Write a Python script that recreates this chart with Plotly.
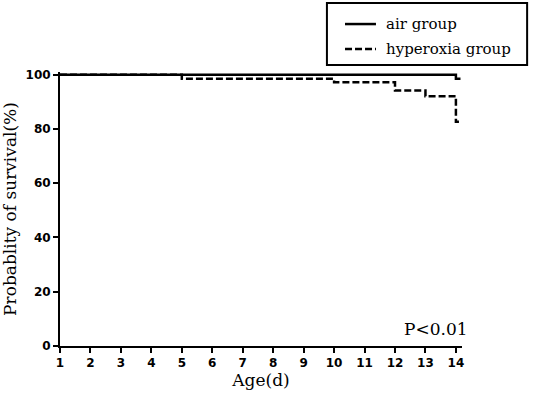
import plotly.graph_objects as go

air_x = [1, 14, 14.15]
air_y = [100, 98.5, 98.5]
hyp_x = [1, 5, 10, 12, 13, 14, 14.1]
hyp_y = [100, 98.5, 97.2, 94.2, 92.1, 82.7, 82.7]
x_ticks = list(range(1, 15))
y_ticks = [0, 20, 40, 60, 80, 100]
names = ["air group", "hyperoxia group"]

serif = "DejaVu Serif, serif"
dash = "7px,3px"

fig = go.Figure()
fig.add_trace(go.Scatter(x=air_x, y=air_y, mode="lines", line_shape="hv",
                         name=names[0], line=dict(color="black", width=2.5)))
fig.add_trace(go.Scatter(x=hyp_x, y=hyp_y, mode="lines", line_shape="hv",
                         name=names[1],
                         line=dict(color="black", width=2.5, dash=dash)))

# manual legend (paper coordinates)
shapes = [
    dict(type="rect", xref="paper", yref="paper", x0=0.664, x1=1.162, y0=1.0255, y1=1.252,
         line=dict(color="black", width=2), fillcolor="white"),
    dict(type="line", xref="paper", yref="paper", x0=0.709, x1=0.786, y0=1.175, y1=1.175,
         line=dict(color="black", width=2.5)),
    dict(type="line", xref="paper", yref="paper", x0=0.709, x1=0.786, y0=1.084, y1=1.084,
         line=dict(color="black", width=2.5, dash=dash)),
]
annotations = [
    dict(text=names[0], x=0.805, y=1.175, xref="paper", yref="paper", xanchor="left",
         yanchor="middle", showarrow=False, font=dict(family=serif, size=15, color="black")),
    dict(text=names[1], x=0.805, y=1.084, xref="paper", yref="paper", xanchor="left",
         yanchor="middle", showarrow=False, font=dict(family=serif, size=15, color="black")),
    dict(text="P<0.01", x=1.02, y=0.02, xref="paper", yref="paper",
         xanchor="right", yanchor="bottom", showarrow=False,
         font=dict(family=serif, size=17, color="black")),
]

fig.update_layout(
    width=536, height=399,
    margin=dict(l=60, r=74, t=72, b=53),
    paper_bgcolor="white", plot_bgcolor="white",
    showlegend=False,
    shapes=shapes,
    annotations=annotations,
    xaxis=dict(range=[1, 14.2], tickvals=x_ticks, ticktext=[str(v) for v in x_ticks],
               automargin=False,
               showgrid=False, zeroline=False, showline=True, linecolor="black",
               linewidth=2, ticks="outside", ticklen=5, tickwidth=2, tickcolor="black",
               tickfont=dict(family="DejaVu Sans", size=12, color="black", weight="bold"),
               title=dict(text="Age(d)", font=dict(family=serif, size=17, color="black"),
                          standoff=4)),
    yaxis=dict(range=[0, 101], tickvals=y_ticks, ticktext=[str(v) for v in y_ticks],
               automargin=False,
               showgrid=False, zeroline=False, showline=True, linecolor="black",
               linewidth=2, ticks="outside", ticklen=5, tickwidth=2, tickcolor="black",
               tickfont=dict(family="DejaVu Sans", size=12, color="black", weight="bold"),
               title=dict(text="Probablity of survival(%)",
                          font=dict(family=serif, size=17, color="black"), standoff=8)),
)

fig.write_html("out.html", config={"displayModeBar": False},
               post_script="document.body.style.margin='0px';document.body.style.overflow='hidden';")
